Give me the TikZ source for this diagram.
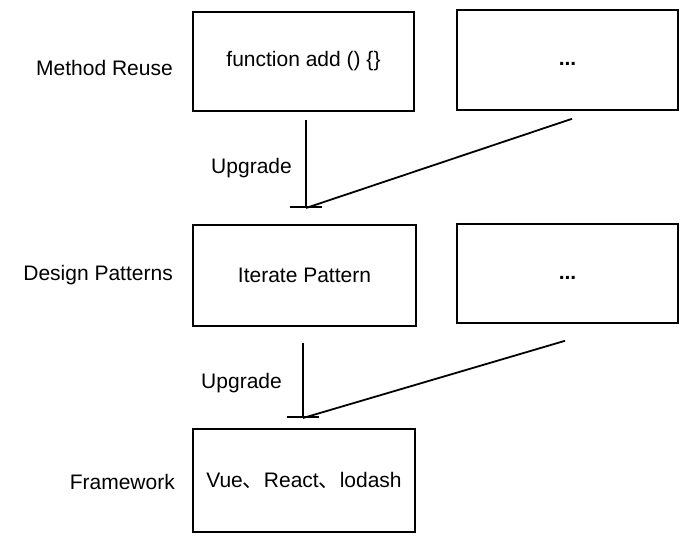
\documentclass[tikz,border=0pt]{standalone}
\usepackage{fontspec}
\setmainfont{Liberation Sans}
\newfontfamily\cjkfont{Noto Sans CJK SC}
\usetikzlibrary{arrows.meta}
\tikzset{
  box/.style={draw=black, line width=1.6pt, minimum width=#1, inner sep=0pt, fill=white},
  lbl/.style={font=\fontsize{21}{24}\selectfont, inner sep=0pt, anchor=east},
  conn/.style={line width=1.8pt, draw=black},
  barend/.style={conn, -{Bar[width=32pt, line width=1.8pt]}},
}
\newcommand{\mydots}{\raisebox{-6pt}[0pt][0pt]{\bfseries ...}}
\begin{document}
\begin{tikzpicture}[x=1pt, y=-1pt, font=\fontsize{21}{24}\selectfont]
\useasboundingbox[fill=white] (0,0) rectangle (688,540);
% boxes
\node[box=221pt, minimum height=99pt] (b1) at (303.5,61.5) {function add () \{\}};
\node[box=221pt, minimum height=100pt] (b2) at (567.5,60) {\mydots};
\node[box=223pt, minimum height=101pt] (b3) at (304.5,275.5) {Iterate Pattern};
\node[box=221pt, minimum height=99pt] (b4) at (567.5,273.5) {\mydots};
\node[box=222pt, minimum height=103pt] (b5) at (304,480.5) {Vue{\cjkfont 、}React{\cjkfont 、}lodash};
% row labels
\node[lbl] (l1) at (173,68) {Method Reuse};
\node[lbl] (l2) at (173,275) {Design Patterns};
\node[lbl] (l3) at (175,482) {Framework};
% junctions
\coordinate (j1) at (306,208);
\coordinate (j2) at (303,418);
% connectors
\draw[barend, shorten <=8pt] (b1.south -| j1) -- (j1);
\draw[conn] ([shift={(4.5,8)}]b2.south) -- (j1);
\draw[barend, shorten <=16pt] (b3.south -| j2) -- (j2);
\draw[conn] ([shift={(-2.5,17)}]b4.south) -- (j2);
% upgrade labels
\node[lbl] (u1) at (292,168) {Upgrade};
\node[lbl] (u2) at (282,383) {Upgrade};
\end{tikzpicture}
\end{document}
